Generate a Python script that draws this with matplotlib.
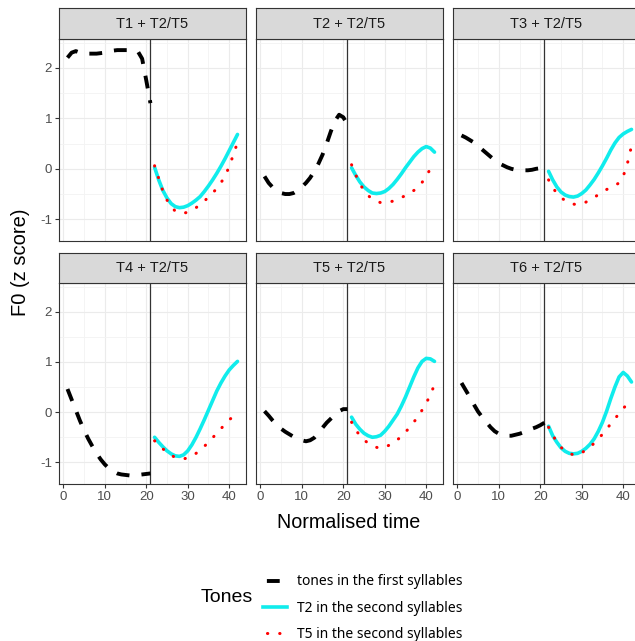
import numpy as np
import matplotlib
matplotlib.use("Agg")
import matplotlib.pyplot as plt
from matplotlib.lines import Line2D

plt.rcParams["axes.unicode_minus"] = False

W, H = 635, 641

panels = ["T1 + T2/T5", "T2 + T2/T5", "T3 + T2/T5",
          "T4 + T2/T5", "T5 + T2/T5", "T6 + T2/T5"]

time_first = list(range(1, 22))
time_second = list(range(22, 43))

# first syllable (black dashed), per panel
first_T1 = [2.20, 2.30, 2.33, 2.30, 2.28, 2.28, 2.28, 2.28, 2.29, 2.30, 2.32,
            2.34, 2.35, 2.35, 2.35, 2.35, 2.34, 2.32, 2.18, 1.75, 1.30]
first_T2 = [-0.15, -0.28, -0.37, -0.44, -0.48, -0.50, -0.50, -0.48, -0.43, -0.36, -0.28,
            -0.18, -0.05, 0.10, 0.28, 0.50, 0.74, 0.95, 1.07, 1.02, 0.88]
first_T3 = [0.66, 0.62, 0.57, 0.52, 0.45, 0.38, 0.31, 0.24, 0.17, 0.11, 0.07,
            0.03, 0.00, -0.02, -0.03, -0.03, -0.03, -0.02, 0.00, 0.01, 0.02]
first_T4 = [0.46, 0.25, 0.04, -0.17, -0.36, -0.53, -0.68, -0.82, -0.94, -1.04, -1.12,
            -1.18, -1.22, -1.24, -1.25, -1.26, -1.26, -1.25, -1.24, -1.23, -1.22]
first_T5 = [0.02, -0.07, -0.17, -0.26, -0.33, -0.39, -0.44, -0.49, -0.53, -0.56, -0.58,
            -0.56, -0.51, -0.42, -0.31, -0.21, -0.13, -0.05, 0.02, 0.06, 0.06]
first_T6 = [0.58, 0.44, 0.30, 0.15, 0.01, -0.10, -0.20, -0.30, -0.38, -0.43, -0.46,
            -0.47, -0.47, -0.45, -0.43, -0.40, -0.37, -0.33, -0.30, -0.26, -0.21]

# T2 in the second syllable (cyan)
t2_T1 = [0.03, -0.22, -0.43, -0.58, -0.69, -0.75, -0.77, -0.76, -0.73, -0.68, -0.62,
         -0.55, -0.45, -0.34, -0.22, -0.09, 0.05, 0.20, 0.36, 0.52, 0.68]
t2_T2 = [0.02, -0.13, -0.26, -0.36, -0.43, -0.48, -0.49, -0.48, -0.45, -0.39, -0.31,
         -0.21, -0.10, 0.02, 0.13, 0.24, 0.33, 0.40, 0.44, 0.41, 0.33]
t2_T3 = [-0.05, -0.22, -0.36, -0.46, -0.52, -0.55, -0.56, -0.54, -0.49, -0.42, -0.32,
         -0.21, -0.08, 0.06, 0.21, 0.37, 0.51, 0.62, 0.69, 0.74, 0.78]
t2_T4 = [-0.50, -0.60, -0.69, -0.77, -0.83, -0.87, -0.88, -0.85, -0.77, -0.65, -0.50,
         -0.33, -0.15, 0.04, 0.23, 0.42, 0.58, 0.72, 0.84, 0.93, 1.01]
t2_T5 = [-0.10, -0.24, -0.34, -0.42, -0.47, -0.50, -0.49, -0.46, -0.38, -0.28, -0.16,
         -0.04, 0.12, 0.30, 0.50, 0.70, 0.88, 1.01, 1.07, 1.06, 1.01]
t2_T6 = [-0.28, -0.47, -0.60, -0.71, -0.78, -0.82, -0.83, -0.82, -0.78, -0.72, -0.64,
         -0.53, -0.38, -0.20, 0.02, 0.27, 0.50, 0.70, 0.79, 0.72, 0.60]

# T5 in the second syllable (red dotted)
t5_T1 = [0.06, -0.19, -0.44, -0.62, -0.75, -0.84, -0.87, -0.88, -0.86, -0.82, -0.77,
         -0.71, -0.64, -0.56, -0.48, -0.39, -0.28, -0.14, 0.04, 0.28, 0.52]
t5_T2 = [0.08, -0.12, -0.30, -0.43, -0.53, -0.60, -0.64, -0.67, -0.67, -0.66, -0.64,
         -0.61, -0.57, -0.53, -0.48, -0.43, -0.38, -0.27, -0.15, 0.00, 0.10]
t5_T3 = [-0.22, -0.38, -0.48, -0.57, -0.63, -0.68, -0.70, -0.71, -0.69, -0.66, -0.62,
         -0.57, -0.51, -0.46, -0.41, -0.37, -0.33, -0.28, -0.15, 0.10, 0.45]
t5_T4 = [-0.57, -0.66, -0.73, -0.80, -0.86, -0.90, -0.92, -0.93, -0.91, -0.87, -0.82,
         -0.76, -0.68, -0.60, -0.51, -0.42, -0.33, -0.24, -0.15, -0.09, -0.05]
t5_T5 = [-0.20, -0.36, -0.46, -0.55, -0.62, -0.67, -0.70, -0.72, -0.70, -0.66, -0.62,
         -0.55, -0.49, -0.40, -0.30, -0.20, -0.09, 0.04, 0.18, 0.34, 0.55]
t5_T6 = [-0.30, -0.46, -0.59, -0.70, -0.77, -0.82, -0.85, -0.85, -0.81, -0.75, -0.69,
         -0.62, -0.53, -0.44, -0.34, -0.23, -0.13, -0.03, 0.07, 0.17, 0.28]

first_all = [first_T1, first_T2, first_T3, first_T4, first_T5, first_T6]
t2_all = [t2_T1, t2_T2, t2_T3, t2_T4, t2_T5, t2_T6]
t5_all = [t5_T1, t5_T2, t5_T3, t5_T4, t5_T5, t5_T6]

legend_labels = ["tones in the first syllables", "T2 in the second syllables",
                 "T5 in the second syllables"]

BLACK_LS = (0, (3.3, 3.1))
RED_LS = (0, (0.1, 3.9))
CYAN = "#10ECEC"
GREY20 = "#333333"


def px_rect(x0, y0, x1, y1):
    # pixel box (top-left origin) -> figure fraction
    return [x0 / W, (H - y1) / H, (x1 - x0) / W, (y1 - y0) / H]


def draw_panel(fig, i, col_x, row_y):
    x0, x1 = col_x
    s0, s1, p1 = row_y
    ax = fig.add_axes(px_rect(x0, s1, x1, p1))
    st = fig.add_axes(px_rect(x0, s0, x1, s1))

    ax.set_xlim(-1.05, 44.05)
    ax.set_ylim(-1.43, 2.57)
    ax.set_xticks([0, 10, 20, 30, 40])
    ax.set_xticks([5, 15, 25, 35], minor=True)
    ax.set_yticks([-1, 0, 1, 2])
    ax.set_yticks([-0.5, 0.5, 1.5, 2.5], minor=True)
    ax.grid(which="major", color="#EBEBEB", lw=0.8)
    ax.grid(which="minor", color="#F3F3F3", lw=0.6)
    ax.set_axisbelow(True)
    for sp in ax.spines.values():
        sp.set_color(GREY20)
        sp.set_linewidth(0.8)
    ax.tick_params(which="minor", length=0)
    ax.tick_params(which="major", length=3, width=0.8, color=GREY20,
                   labelcolor="#4D4D4D", labelsize=9.5, pad=2)
    if i % 3 != 0:
        ax.tick_params(axis="y", length=0, labelleft=False)
    if i < 3:
        ax.tick_params(axis="x", length=0, labelbottom=False)
    for lab in ax.get_xticklabels() + ax.get_yticklabels():
        lab.set_family("Liberation Sans")

    ax.axvline(21, color=GREY20, lw=0.9)
    ax.plot(time_first, first_all[i], color="black", lw=2.8, linestyle=BLACK_LS)
    ax.plot(time_second, t2_all[i], color=CYAN, lw=2.6, solid_capstyle="round")
    ax.plot(time_second, t5_all[i], color="red", lw=2.2, linestyle=RED_LS,
            dash_capstyle="round")

    st.set_facecolor("#D9D9D9")
    st.set_xticks([])
    st.set_yticks([])
    for sp in st.spines.values():
        sp.set_color(GREY20)
        sp.set_linewidth(0.8)
    st.text(0.5, 0.5, panels[i], ha="center", va="center", fontsize=10.5,
            color="#1A1A1A", family="Liberation Sans", transform=st.transAxes)
    return ax


def main():
    fig = plt.figure(figsize=(W / 100, H / 100), dpi=100)
    fig.patch.set_facecolor("white")

    cols = [(59, 246), (256, 443), (453, 640)]
    rows = [(8, 39, 241), (253, 283, 484)]
    for i in range(6):
        draw_panel(fig, i, cols[i % 3], rows[i // 3])

    fig.text(21 / W, 1 - 262 / H, "F0 (z score)", rotation=90, ha="center",
             va="center", fontsize=14.5, family="Liberation Sans")
    fig.text(349 / W, 1 - 523 / H, "Normalised time", ha="center",
             va="center", fontsize=14.2, family="Liberation Sans")

    fig.text(227 / W, 1 - 597 / H, "Tones", ha="center", va="center",
             fontsize=14, family="Liberation Sans")
    handles = [
        Line2D([], [], color="black", lw=2.8, linestyle=(5.4, (3.3, 3.1))),
        Line2D([], [], color=CYAN, lw=2.6),
        Line2D([], [], color="red", lw=2.2, linestyle=(2.7, (0.1, 3.9)),
               dash_capstyle="round"),
    ]
    fig.legend(handles, legend_labels, loc="center left",
               bbox_to_anchor=(257 / W, 1 - 608 / H), frameon=False,
               prop={"family": "Noto Sans", "size": 10}, handlelength=1.73,
               handletextpad=0.72, labelspacing=0.8, borderaxespad=0)

    plt.savefig("out.png", dpi=100)


if __name__ == "__main__":
    main()
